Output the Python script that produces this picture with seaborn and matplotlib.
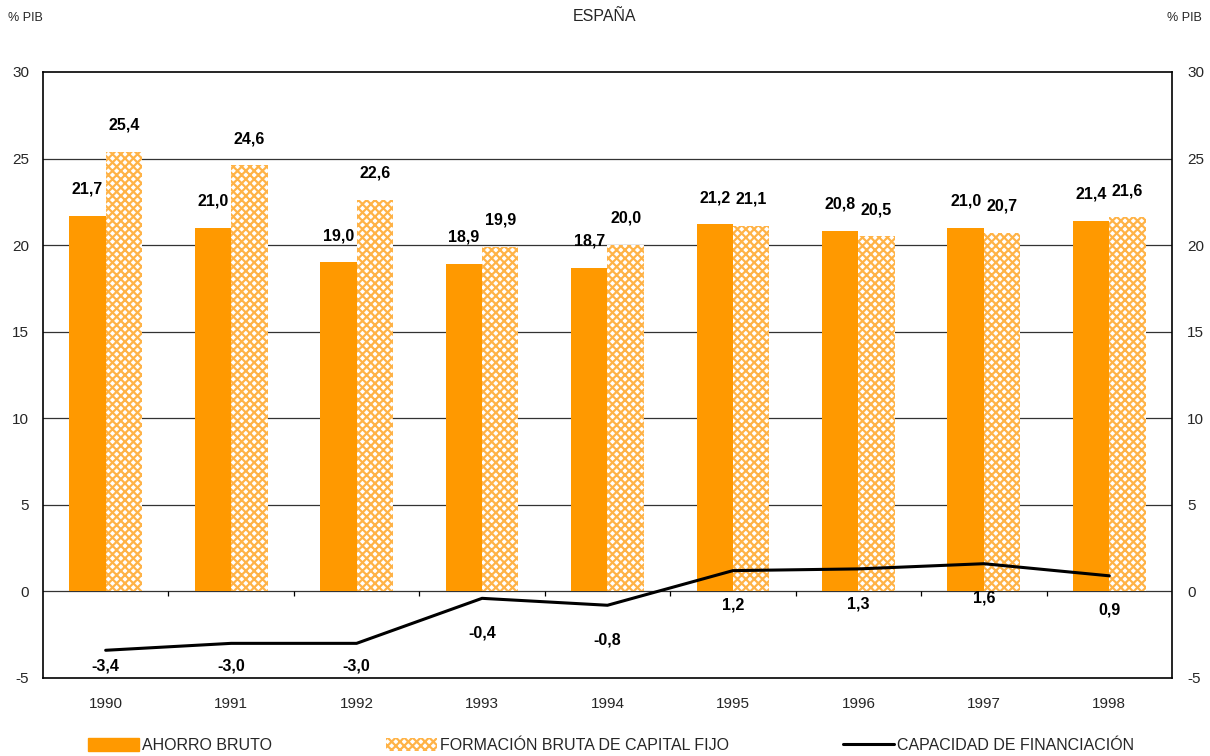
import numpy as np
import pandas as pd
import matplotlib
matplotlib.use("Agg")
import matplotlib.pyplot as plt
import seaborn as sns
from matplotlib.patches import Patch
from matplotlib.lines import Line2D

# ── Data ─────────────────────────────────────────────────────
YEARS = ["1990", "1991", "1992", "1993", "1994", "1995", "1996", "1997", "1998"]
AHORRO = [21.7, 21.0, 19.0, 18.9, 18.7, 21.2, 20.8, 21.0, 21.4]
FBCF = [25.4, 24.6, 22.6, 19.9, 20.0, 21.1, 20.5, 20.7, 21.6]
CAPACIDAD = [-3.4, -3.0, -3.0, -0.4, -0.8, 1.2, 1.3, 1.6, 0.9]
SERIES = ["AHORRO BRUTO", "FORMACIÓN BRUTA DE CAPITAL FIJO"]
LINE_NAME = "CAPACIDAD DE FINANCIACIÓN"
Y_TICKS = [-5, 0, 5, 10, 15, 20, 25, 30]

ORANGE = "#FF9900"
HATCH_C = "#FFB347"

sns.set_theme(style="white")
plt.rcParams["font.family"] = ["Liberation Sans", "DejaVu Sans"]
plt.rcParams["hatch.linewidth"] = 1.6

df = pd.DataFrame({
    "year": YEARS * 2,
    "value": AHORRO + FBCF,
    "serie": [SERIES[0]] * len(YEARS) + [SERIES[1]] * len(YEARS),
})

fig = plt.figure(figsize=(12.1, 7.56), dpi=100)
ax = fig.add_axes([0.0355, 0.1032, 0.9331, 0.8016])

sns.barplot(data=df, x="year", y="value", hue="serie", ax=ax,
            palette=[ORANGE, "white"], width=0.58, saturation=1,
            legend=False, zorder=2)

# hatched second series
for patch in ax.containers[1]:
    patch.set_hatch("xxxx")
    patch.set_edgecolor(HATCH_C)
    patch.set_linewidth(0)
for patch in ax.containers[0]:
    patch.set_edgecolor(ORANGE)
    patch.set_linewidth(0)

# bar labels
for cont, vals in zip(ax.containers, [AHORRO, FBCF]):
    for patch, v in zip(cont, vals):
        cx = patch.get_x() + patch.get_width() / 2
        ax.text(cx, v + 1.55, f"{v:.1f}".replace(".", ","), ha="center",
                va="center", fontsize=11.5, fontweight="bold", color="black")

# line
x_pos = np.arange(len(YEARS))
sns.lineplot(x=x_pos, y=CAPACIDAD, ax=ax, color="black", linewidth=2.2,
             zorder=4, legend=False)
for xp, v in zip(x_pos, CAPACIDAD):
    ax.text(xp, max(v - 2.0, -4.3), f"{v:.1f}".replace(".", ","), ha="center",
            va="center", fontsize=11.5, fontweight="bold", color="black")

# axes styling
ax.set_ylim(-5, 30)
ax.set_xlim(-0.5, len(YEARS) - 0.5)
ax.set_yticks(Y_TICKS)
ax.set_yticklabels([str(t) for t in Y_TICKS], fontsize=11)
for t in Y_TICKS[1:-1]:
    ax.axhline(t, color="#333333", linewidth=0.9, zorder=1)
ax.vlines(np.arange(len(YEARS) - 1) + 0.5, -0.25, 0, color="black",
          linewidth=0.9, zorder=3)
ax.set_xticks(x_pos)
ax.set_xticklabels(YEARS, fontsize=11)
ax.tick_params(axis="x", length=0, pad=14)
ax.tick_params(axis="y", length=0, pad=10)
ax.set_xlabel("")
ax.set_ylabel("")
for s in ax.spines.values():
    s.set_color("black")
    s.set_linewidth(1.2)

ax2 = ax.twinx()
ax2.set_ylim(-5, 30)
ax2.set_yticks(Y_TICKS)
ax2.set_yticklabels([str(t) for t in Y_TICKS], fontsize=11)
ax2.tick_params(axis="y", length=0, pad=11)
for s in ax2.spines.values():
    s.set_visible(False)

fig.text(0.5, 0.978, "ESPAÑA", ha="center", va="center", fontsize=11.5)
fig.text(0.007, 0.976, "% PIB", ha="left", va="center", fontsize=9)
fig.text(0.993, 0.976, "% PIB", ha="right", va="center", fontsize=9)

# legend
handles = [
    Patch(facecolor=ORANGE, edgecolor=ORANGE),
    Patch(facecolor="white", edgecolor=HATCH_C, hatch="xxxx", linewidth=0),
    Line2D([0], [0], color="black", linewidth=2.2),
]
labels = [SERIES[0], SERIES[1], LINE_NAME]
fig.legend(handles, labels, loc="center", bbox_to_anchor=(0.505, 0.014),
           ncol=3, frameon=False, fontsize=11.5, columnspacing=7.1,
           handlelength=3.2, handleheight=0.9, handletextpad=0.2)

fig.savefig("out.png", dpi=100)
